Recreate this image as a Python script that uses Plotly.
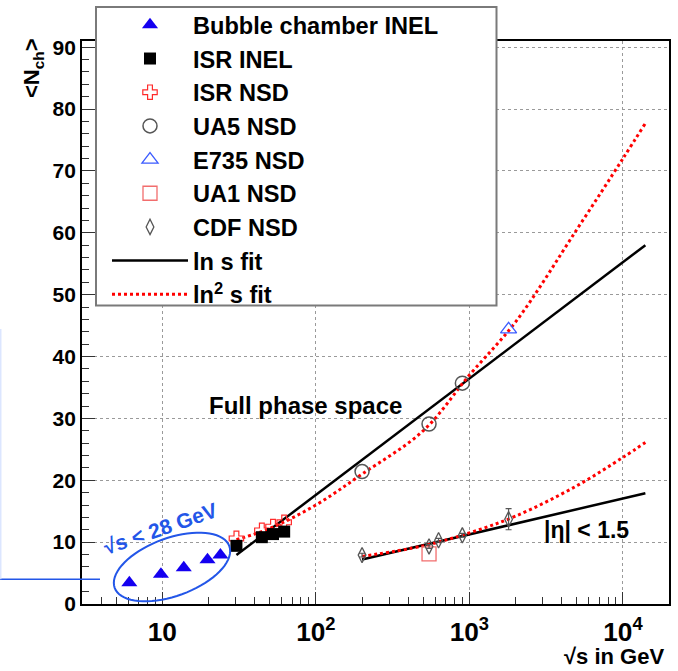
import numpy as np
import plotly.graph_objects as go

# ---------------- data ----------------
bubble_x = [6.1, 9.8, 13.8, 19.7, 23.9]
bubble_y = [3.45, 4.8, 5.85, 7.15, 7.9]
isr_inel_x = [30.4, 44.5, 52.6, 62.2]
isr_inel_y = [9.4, 10.8, 11.3, 11.7]
isr_nsd_x = [30.4, 44.5, 52.6, 62.2]
isr_nsd_y = [10.6, 11.9, 12.5, 13.2]
ua5_x = [200, 546, 900]
ua5_y = [21.4, 29.1, 35.7]
e735_x = [1800]
e735_y = [44.4]
ua1_x = [546]
ua1_y = [8.1]
cdf_x = [200, 546, 630, 900, 1800]
cdf_y = [7.9, 9.3, 10.3, 11.1, 13.7]
cdf_err = [0.3, 0.3, 0.3, 0.3, 1.7]

lns_full_x = [30.4, 14000]
lns_full_y = [7.9, 58.0]
ln2s_full_x = [30.4, 50, 100, 200, 500, 1000, 2000, 5000, 10000, 14000]
ln2s_full_y = [10.4, 12.2, 16.0, 21.0, 28.0, 37.0, 45.6, 60.5, 72.0, 77.7]
lns_eta_x = [200, 14000]
lns_eta_y = [7.2, 17.9]
ln2s_eta_x = [200, 500, 1000, 2000, 5000, 10000, 14000]
ln2s_eta_y = [7.7, 9.4, 11.5, 14.2, 19.1, 23.7, 26.1]

# ---------------- layout geometry (screen pixels) ----------------
FIG_W, FIG_H = 678, 671
PL, PR, PT, PB = 82, 669, 41, 604
W, H = PR - PL, PB - PT


def px(x):
    return (x - PL) / W


def py(y):
    return (PB - y) / H


FONT = "Liberation Sans, Arial, sans-serif"
GRAY = "#555555"
BLUE_ANN = "#2356e8"

fig = go.Figure()

# fit lines first (drawn beneath markers)
fig.add_trace(go.Scatter(x=lns_full_x, y=lns_full_y, mode="lines", name="ln s fit",
                         line=dict(color="black", width=2.5), legendrank=8))
fig.add_trace(go.Scatter(x=ln2s_full_x, y=ln2s_full_y, mode="lines", name="ln<sup>2</sup> s fit",
                         line=dict(color="red", width=3, dash="3px,3px", shape="spline"),
                         legendrank=9))
fig.add_trace(go.Scatter(x=lns_eta_x, y=lns_eta_y, mode="lines", showlegend=False,
                         line=dict(color="black", width=2.5)))
fig.add_trace(go.Scatter(x=ln2s_eta_x, y=ln2s_eta_y, mode="lines", showlegend=False,
                         line=dict(color="red", width=3, dash="3px,3px", shape="spline")))

fig.add_trace(go.Scatter(x=bubble_x, y=bubble_y, mode="markers", name="Bubble chamber INEL",
                         marker=dict(symbol="triangle-up", size=14, color="#1400f0"),
                         legendrank=1))
fig.add_trace(go.Scatter(x=isr_nsd_x, y=isr_nsd_y, mode="markers", name="ISR NSD",
                         marker=dict(symbol="cross-open", size=12, color="#ff2a2a",
                                     line=dict(width=1.2, color="#ff2a2a")),
                         legendrank=3))
fig.add_trace(go.Scatter(x=isr_inel_x, y=isr_inel_y, mode="markers", name="ISR INEL",
                         marker=dict(symbol="square", size=12, color="black"),
                         legendrank=2))
fig.add_trace(go.Scatter(x=ua5_x, y=ua5_y, mode="markers", name="UA5 NSD",
                         marker=dict(symbol="circle-open", size=14, color=GRAY,
                                     line=dict(width=1.5, color=GRAY)),
                         legendrank=4))
fig.add_trace(go.Scatter(x=e735_x, y=e735_y, mode="markers", name="E735 NSD",
                         marker=dict(symbol="triangle-up-open", size=14, color="#3b5bff",
                                     line=dict(width=1.3, color="#3b5bff")),
                         legendrank=5))
fig.add_trace(go.Scatter(x=ua1_x, y=ua1_y, mode="markers", name="UA1 NSD",
                         marker=dict(symbol="square-open", size=14, color="#f26d6d",
                                     line=dict(width=1.3, color="#f26d6d")),
                         legendrank=6))
fig.add_trace(go.Scatter(x=cdf_x, y=cdf_y, mode="markers", name="CDF NSD",
                         error_y=dict(type="data", array=cdf_err, color=GRAY, thickness=1.2, width=3),
                         marker=dict(symbol="diamond-tall-open", size=11, color=GRAY,
                                     line=dict(width=1.3, color=GRAY)),
                         legendrank=7))

tickfont = dict(family=FONT, size=21, color="black", weight="bold")

fig.update_xaxes(type="log", range=[np.log10(3.0), 4.3], dtick=1, exponentformat="power",
                 showline=True, mirror=True, linecolor="black", linewidth=1.5,
                 ticks="inside", ticklen=12, tickwidth=1.3, tickcolor="#333",
                 minor=dict(ticks="inside", ticklen=7, tickwidth=1.2, tickcolor="#333", showgrid=False),
                 showgrid=True, gridcolor="#9a9a9a", griddash="dot", gridwidth=1,
                 tickfont=tickfont, zeroline=False, ticklabelstandoff=5, automargin=False)
fig.update_yaxes(range=[0, 91], dtick=10,
                 showline=True, mirror=True, linecolor="black", linewidth=1.8,
                 ticks="inside", ticklen=13, tickwidth=1.3, tickcolor="#333",
                 minor=dict(ticks="inside", ticklen=7, tickwidth=1.2, tickcolor="#333", dtick=2,
                            showgrid=False),
                 showgrid=True, gridcolor="#9a9a9a", griddash="dot", gridwidth=1,
                 tickfont=tickfont, zeroline=False, automargin=False)

# ellipse around low-energy points
cx, cy, a, b, th = 172, 567, 61, 29, np.deg2rad(20)
t = np.linspace(0, 2 * np.pi, 73)
ex = cx + a * np.cos(t) * np.cos(th) + b * np.sin(t) * np.sin(th)
ey = cy - a * np.cos(t) * np.sin(th) + b * np.sin(t) * np.cos(th)
ell_path = "M" + " L".join(f"{px(u):.5f},{py(v):.5f}" for u, v in zip(ex, ey)) + " Z"

shapes = [
    # legend box
    dict(type="rect", xref="paper", yref="paper", x0=px(96), x1=px(496.5), y0=py(305.5), y1=py(7),
         fillcolor="white", line=dict(color="#7a7a7a", width=2), layer="above"),
    dict(type="path", xref="paper", yref="paper", path=ell_path,
         line=dict(color=BLUE_ANN, width=2), layer="above"),
    dict(type="line", xref="paper", yref="paper", x0=px(0), x1=px(100), y0=py(579.3), y1=py(579.3),
         line=dict(color=BLUE_ANN, width=1.5), layer="above"),
    dict(type="line", xref="paper", yref="paper", x0=px(0.8), x1=px(0.8), y0=py(329), y1=py(579.3),
         line=dict(color="#d4e0ff", width=1.2), layer="above"),
]

bold = dict(family=FONT, color="black", weight="bold")
annotations = [
    dict(text="&lt;N<sub>ch</sub>&gt;", xref="paper", yref="paper", x=px(33), y=py(68),
         textangle=-90, showarrow=False, xanchor="center", yanchor="middle",
         font=dict(size=22, **bold)),
    dict(text="√s in GeV", xref="paper", yref="paper", x=px(666), y=py(657),
         showarrow=False, xanchor="right", yanchor="middle", font=dict(size=22, **bold)),
    dict(text="Full phase space", xref="paper", yref="paper", x=px(305), y=py(405),
         showarrow=False, xanchor="center", yanchor="middle", font=dict(size=24, **bold)),
    dict(text="|η| < 1.5", xref="paper", yref="paper", x=px(586), y=py(530),
         showarrow=False, xanchor="center", yanchor="middle", font=dict(size=23, **bold)),
    dict(text="√s < 28 GeV", xref="paper", yref="paper", x=px(160), y=py(528),
         textangle=-19, showarrow=False, xanchor="center", yanchor="middle",
         font=dict(family=FONT, size=21, color=BLUE_ANN, weight="bold")),
]

fig.update_layout(
    width=FIG_W, height=FIG_H,
    margin=dict(l=PL, r=FIG_W - PR, t=PT, b=FIG_H - PB, autoexpand=False),
    paper_bgcolor="white", plot_bgcolor="white",
    shapes=shapes, annotations=annotations,
    showlegend=True,
    legend=dict(x=px(107), y=py(3), xanchor="left", yanchor="top",
                bgcolor="rgba(0,0,0,0)", borderwidth=0, itemwidth=76,
                font=dict(family=FONT, size=23.6, color="black", weight="bold"),
                traceorder="normal"),
)

fig.write_html("out.html", config={"displayModeBar": False},
               post_script="document.body.style.margin='0';document.body.style.overflow='hidden';")
